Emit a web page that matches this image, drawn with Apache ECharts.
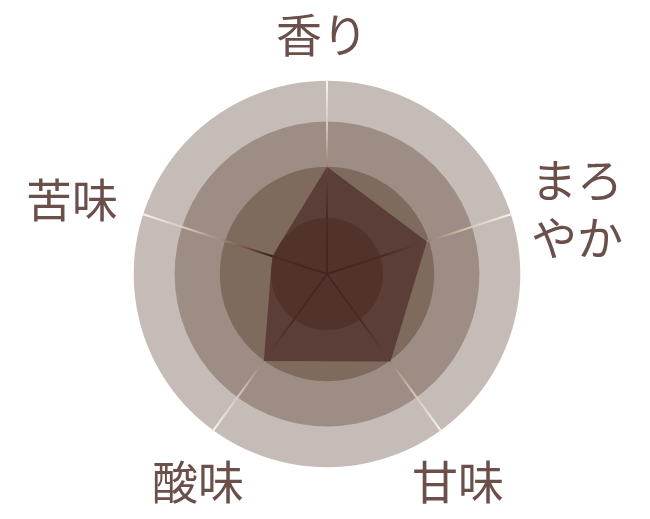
<!DOCTYPE html>
<html><head><meta charset="utf-8">
<script src="https://cdn.jsdelivr.net/npm/echarts@6/dist/echarts.min.js"></script>
<style>html,body{margin:0;padding:0;background:#fff}#c{width:650px;height:519px}</style>
</head><body><div id="c"></div>
<script>
// ---- data ----
const indicators = ['香り', '苦味', '酸味', '甘味', 'まろやか'];
const indicatorMax = [100, 100, 100, 100, 100];
const values = [55.5, 29.8, 55.6, 55.9, 54.3];
const displayNames = ['香り', '苦味', '酸味', '甘味', 'まろ\nやか'];

// ---- layout / style ----
const CX = 327, CY = 274, R = 193.3;
const ringRadii = [193.3, 152.4, 107.2, 56];
const ringColors = ['#c5bcb7', '#9e8d84', '#7f6b5e', '#5a4230'];
const labelPos = [[322, 35], [72, 200], [198, 482], [458, 482], [577, 209]];
const textColor = '#6a4f4b';

const indicatorDefs = indicators.map((n, i) => ({ name: n, max: indicatorMax[i], min: 0 }));

const radars = ringRadii.map((r, i) => ({
  center: [CX, CY], radius: r, shape: 'circle', splitNumber: 1,
  indicator: indicatorDefs,
  axisName: { show: false },
  axisLine: { show: false }, splitLine: { show: false },
  axisTick: { show: false }, axisLabel: { show: false },
  splitArea: { show: true, areaStyle: { color: [ringColors[i]] } },
  z: 1 + i, silent: true
}));
radars.push({
  center: [CX, CY], radius: R, shape: 'circle', splitNumber: 4,
  indicator: indicatorDefs,
  axisName: { show: false },
  splitLine: { show: false }, splitArea: { show: false },
  axisTick: { show: false }, axisLabel: { show: false },
  axisLine: { show: true, lineStyle: { width: 2, color: {
    type: 'radial', x: CX, y: CY, r: R, global: true,
    colorStops: [
      { offset: 0, color: '#240a04' },
      { offset: 0.3, color: '#3c1e13' },
      { offset: 0.55, color: '#9a8070' },
      { offset: 0.75, color: '#d2c2b3' },
      { offset: 1, color: '#f8f2ec' }
    ] } } },
  z: 6
});

const chart = echarts.init(document.getElementById('c'), null, { renderer: 'canvas' });
chart.setOption({
  animation: false,
  backgroundColor: '#ffffff',
  radar: radars,
  series: [{
    type: 'radar', radarIndex: radars.length - 1, z: 8,
    symbol: 'none',
    lineStyle: { width: 0, opacity: 0 },
    areaStyle: { color: 'rgba(79,47,43,0.75)', opacity: 1 },
    data: [{ value: values }]
  }],
  graphic: displayNames.map((t, i) => ({
    type: 'text', x: labelPos[i][0], y: labelPos[i][1], z: 20,
    style: {
      text: t, fill: textColor, fontSize: 46, lineHeight: 58,
      fontFamily: '"Noto Sans CJK JP", sans-serif', fontWeight: 400,
      textAlign: 'center', textVerticalAlign: 'middle'
    }
  }))
});
</script></body></html>
